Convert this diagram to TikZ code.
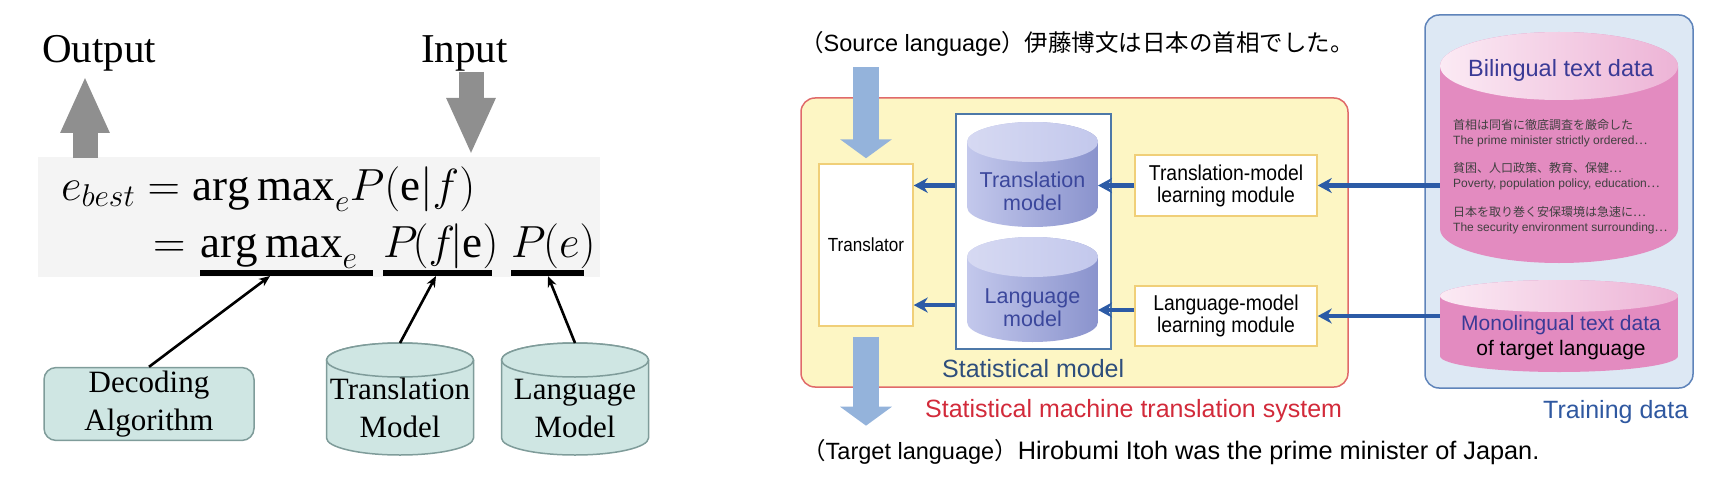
\RequirePackage{fix-cm}
\documentclass[tikz,border=0pt]{standalone}
\usepackage{fontspec}
\setmainfont{Liberation Serif}
\newfontfamily\sansf{Liberation Sans}
\newfontfamily\narrowf[FakeStretch=0.9]{Liberation Sans}
\newfontfamily\jpf{Noto Sans CJK JP}
\usetikzlibrary{arrows.meta,positioning,calc}
\definecolor{arrgray}{HTML}{8F8F8F}
\definecolor{eqbg}{HTML}{F4F4F4}
\definecolor{tealfill}{HTML}{CFE6E3}
\definecolor{tealedge}{HTML}{7F9C9A}
\definecolor{smtfill}{HTML}{FDF6C4}
\definecolor{smtedge}{HTML}{E06A6A}
\definecolor{orangeedge}{HTML}{F0CF78}
\definecolor{smedge}{HTML}{4D78A8}
\definecolor{lavA}{HTML}{C3C8EC}
\definecolor{lavB}{HTML}{8A93CD}
\definecolor{lavtop}{HTML}{D6D9F2}
\definecolor{cyltxt}{HTML}{3B479C}
\definecolor{linkblue}{HTML}{2C5BA6}
\definecolor{blockblue}{HTML}{94B3DB}
\definecolor{trainfill}{HTML}{DDE8F4}
\definecolor{trainedge}{HTML}{5F84BA}
\definecolor{pinkA}{HTML}{E38BC0}
\definecolor{pinkW}{HTML}{FBEAF4}
\definecolor{biltxt}{HTML}{3A3A96}
\definecolor{traintxt}{HTML}{2F58A0}
\definecolor{smtxt}{HTML}{2E4E7C}
\definecolor{redtxt}{HTML}{D22A3A}
% cylinder drawn inside the box of a named node: node, lid radius, body style, lid style
\newcommand\drawdbcyl[4]{%
  \path[#3] let \p1=(#1.north west), \p2=(#1.south east) in
    (\x1,{\y1-#2}) -- (\x1,{\y2+#2})
    arc[start angle=180, end angle=360, x radius={(\x2-\x1)/2}, y radius=#2]
    -- (\x2,{\y1-#2})
    arc[start angle=0, end angle=180, x radius={(\x2-\x1)/2}, y radius=#2] -- cycle;
  \path[#4] let \p1=(#1.north west), \p2=(#1.south east) in
    ({(\x1+\x2)/2},{\y1-#2}) ellipse [x radius={(\x2-\x1)/2}, y radius=#2];
}
\tikzset{
  bigword/.style={inner sep=0pt, font=\fontsize{41}{49}\selectfont},
  eqtext/.style={inner sep=0pt, font=\fontsize{45}{54}\selectfont},
  grayarrow/.style={line width=25pt, draw=arrgray, -{Triangle[length=57pt, width=45pt]}},
  thinarrow/.style={-{Stealth[length=11pt, width=9pt]}, line width=2.6pt},
  ubar/.style={line width=6pt},
  tealbox/.style={rectangle, rounded corners=12pt, draw=tealedge, fill=tealfill, line width=1.5pt,
                  align=center, font=\fontsize{31}{38}\selectfont},
  dbnode/.style={rectangle, inner sep=0pt, outer sep=0pt},
  tealpaint/.style={draw=tealedge, fill=tealfill, line width=1.5pt},
  cyllabel/.style={align=center, inner sep=0pt, font=\fontsize{31}{38}\selectfont},
  sanstext/.style={inner sep=0pt, font=\sansf\fontsize{23.5}{28}\selectfont},
  caption/.style={inner sep=0pt, font=\sansf\fontsize{25}{30}\selectfont},
  whitebox/.style={rectangle, draw=orangeedge, fill=white, line width=1.5pt, align=center,
                   font=\narrowf\fontsize{21.5}{22}\selectfont},
  lavbody/.style={shade, left color=lavA, right color=lavB},
  lavlid/.style={shade, left color=lavtop, right color=lavA},
  cyltext/.style={align=center, inner sep=0pt, text=cyltxt, font=\sansf\fontsize{21.5}{23}\selectfont},
  pinkbody/.style={shade, left color=pinkA, middle color=pinkW, right color=pinkA},
  pinklid/.style={shade, left color=pinkW, right color=pinkA!65},
  smallline/.style={inner sep=0pt, anchor=base west, text=black!75, font=\sansf\fontsize{12}{14}\selectfont},
  fatblue/.style={line width=26pt, draw=blockblue, -{Triangle[length=19pt, width=51pt]}},
  bluelink/.style={-{Stealth[length=14pt, width=15pt]}, line width=4.5pt, draw=linkblue},
}

\begin{document}
\begin{tikzpicture}[x=1pt, y=-1pt]
\useasboundingbox (0,0) rectangle (1728,484);

% noisy channel equation
\fill[eqbg] (38,157) rectangle (600,277);
\node[bigword, anchor=base west] (outp) at (42,63) {Output};
\node[bigword, anchor=base west] (inp) at (421,63) {Input};
\node[eqtext, anchor=base west] (eq1) at (61,200) {$e_{best} = \mathrm{arg\,max}_e P(\mathrm{e}|f)$};
\node[eqtext, anchor=base west] (eq2) at (153,257) {$=$};
\node[eqtext, anchor=base west] (am) at (200,257) {$\mathrm{arg\,max}_e$};
\node[eqtext, anchor=base west] (pfe) at (383,257) {$P\mkern-2mu(f\mkern-2mu|\mathrm{e})$};
\node[eqtext, anchor=base west] (pe) at (511,257) {$P\mkern-1mu(e)$};
\draw[ubar] (200,273) -- (373,273);
\draw[ubar] (383,273) -- (492,273);
\draw[ubar] (511,273) -- (584,273);
\coordinate (u1) at (270,276);
\coordinate (u2) at (436,276);
\coordinate (u3) at (548,276);

\node[tealbox, minimum width=210pt, minimum height=72pt] (dec) at (149,404) {Decoding\\Algorithm};
\node[dbnode, minimum width=147pt, minimum height=112pt] (tmc) at (400,399) {};
\drawdbcyl{tmc}{17pt}{tealpaint}{tealpaint}
\node[cyllabel] (tmcl) at (400,408) {Translation\\Model};
\node[dbnode, minimum width=147pt, minimum height=112pt] (lmc) at (575,399) {};
\drawdbcyl{lmc}{17pt}{tealpaint}{tealpaint}
\node[cyllabel] (lmcl) at (575,408) {Language\\Model};

\coordinate (outfoot) at (85,158);
\coordinate (intip) at (471,155);
\draw[grayarrow, shorten >=4pt] (outfoot) -- (outp.south -| outfoot);
\draw[grayarrow] (inp.south -| intip) -- (intip);
\draw[thinarrow] (dec.north) -- (u1);
\draw[thinarrow] (tmc.north) -- (u2);
\draw[thinarrow] (lmc.north) -- (u3);

% statistical machine translation system
\node[sanstext, anchor=base west] (src) at (800,52) {{\jpf （}Source language{\jpf ）伊藤博文は日本の首相でした。}};
\node[rectangle, rounded corners=14pt, draw=smtedge, fill=smtfill, line width=1.5pt,
      minimum width=547pt, minimum height=289pt] (smt) at (1074.5,242.5) {};
\node[caption, anchor=base west, text=redtxt] (smtlab) at (925,417) {Statistical machine translation system};
\node[whitebox, minimum width=94pt, minimum height=162pt, font=\narrowf\fontsize{19}{22}\selectfont] (tr) at (866,245) {Translator};
\node[rectangle, draw=smedge, fill=white, line width=1.5pt, minimum width=155pt, minimum height=235pt] (sm) at (1033.5,231.5) {};
\node[caption, anchor=base west, text=smtxt] (smlab) at (942,377) {Statistical model};

\node[dbnode, minimum width=131pt, minimum height=105pt] (tm) at (1032.5,174.5) {};
\drawdbcyl{tm}{20pt}{lavbody}{lavlid}
\node[cyltext] (tmlab) at (1032.5,191.5) {Translation\\model};
\node[dbnode, minimum width=131pt, minimum height=105pt] (lm) at (1032.5,289.5) {};
\drawdbcyl{lm}{20pt}{lavbody}{lavlid}
\node[cyltext] (lmlab) at (1032.5,308) {Language\\model};

\node[whitebox, minimum width=182pt, minimum height=61pt] (tml) at (1226,185.5) {Translation-model\\learning module};
\node[whitebox, minimum width=182pt, minimum height=60pt] (lml) at (1226,316) {Language-model\\learning module};

% training data
\node[rectangle, rounded corners=14pt, draw=trainedge, fill=trainfill, line width=1.5pt,
      minimum width=268pt, minimum height=373pt] (trn) at (1559,201.5) {};
\node[caption, anchor=base west, text=traintxt] (trnlab) at (1543,418) {Training data};
\node[dbnode, minimum width=238pt, minimum height=231pt] (bil) at (1559,147.5) {};
\drawdbcyl{bil}{34pt}{pinkbody}{pinklid}
\node[inner sep=0pt, anchor=base west, text=biltxt, font=\sansf\fontsize{23.5}{28}\selectfont] (billab) at (1468,77) {Bilingual text data};
\node[smallline] (b1) at (1453,129) {\jpf 首相は同省に徹底調査を厳命した};
\node[smallline] (b2) at (1453,144) {The prime minister strictly ordered{\jpf …}};
\node[smallline] (b3) at (1453,172) {\jpf 貧困、人口政策、教育、保健…};
\node[smallline] (b4) at (1453,187) {Poverty, population policy, education{\jpf …}};
\node[smallline] (b5) at (1453,216) {\jpf 日本を取り巻く安保環境は急速に…};
\node[smallline] (b6) at (1453,231) {The security environment surrounding{\jpf …}};
\node[dbnode, minimum width=238pt, minimum height=92pt] (mono) at (1559,326) {};
\drawdbcyl{mono}{16pt}{pinkbody}{pinklid}
\node[inner sep=0pt, align=center, font=\sansf\fontsize{21}{25}\selectfont] (monolab) at (1561,338)
  {\textcolor{biltxt}{Monolingual text data}\\of target language};

\node[sanstext, anchor=base west] (tgt) at (802,459) {{\jpf （}Target language{\jpf ）}{\fontsize{25.3}{30}\selectfont Hirobumi Itoh was the prime minister of Japan.}};

% connectors
\draw[fatblue, shorten <=10pt, shorten >=5pt] (src.south -| tr.north) -- (tr.north);
\draw[fatblue, shorten <=10pt, shorten >=13pt] (tr.south) -- (tgt.north -| tr.south);
\draw[bluelink] (bil.west |- tml.east) -- (tml.east);
\draw[bluelink] (mono.west |- lml.east) -- (lml.east);
\draw[bluelink] (tml.west) -- (tml.west -| tm.east);
\draw[bluelink] ([yshift=6pt]lml.west) -- ([yshift=6pt]lml.west -| lm.east);
\draw[bluelink] (sm.west |- tml.west) -- (tr.east |- tml.west);
\draw[bluelink] ([yshift=11pt]sm.west |- lml.west) -- ([yshift=11pt]tr.east |- lml.west);
\end{tikzpicture}
\end{document}
